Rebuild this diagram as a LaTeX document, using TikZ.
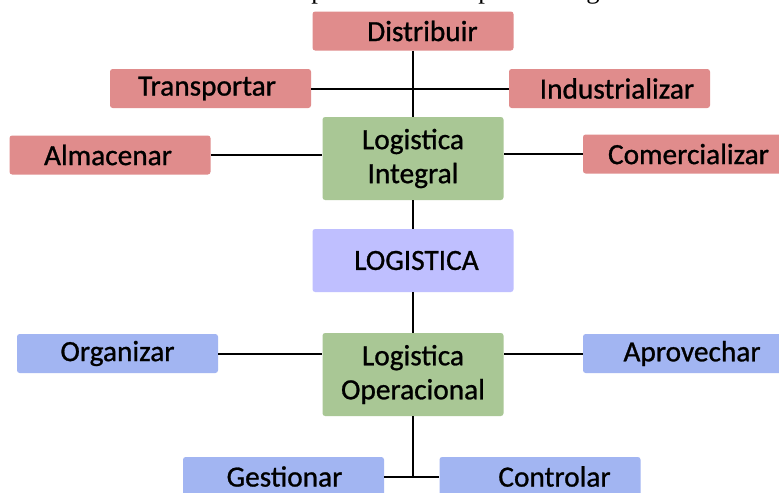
\documentclass[tikz,border=0pt]{standalone}
\usepackage{fontspec}
\setmainfont{Carlito}[FakeBold=0.9]
\newfontfamily\capfont{Liberation Serif}
\definecolor{redbox}{RGB}{224,140,140}
\definecolor{greenbox}{RGB}{169,199,149}
\definecolor{lilacbox}{RGB}{191,191,255}
\definecolor{bluebox}{RGB}{162,181,242}
\newcommand\Off[1]{\hspace*{#1}}
\tikzset{
  box/.style={rectangle, rounded corners=2pt, inner sep=0pt, text=black,
    font=\fontsize{22}{25.5}\selectfont, align=center},
  leaf/.style={box, minimum width=150.75pt, minimum height=29.25pt},
  redleaf/.style={leaf, fill=redbox},
  blueleaf/.style={leaf, fill=bluebox},
  hub/.style={box, fill=greenbox, minimum width=135.75pt, minimum height=62.25pt},
  core/.style={box, fill=lilacbox, minimum width=150.75pt, minimum height=47.25pt},
  link/.style={draw=black, line width=1.5pt},
  captail/.style={font=\capfont\fontsize{20}{24}\selectfont, anchor=base, inner sep=0pt},
}
\begin{document}
\begin{tikzpicture}[x=0.75pt, y=-0.75pt]
  \useasboundingbox (0,0) rectangle (779,493);
  \clip (0,0) rectangle (779,493);
  \fill[white] (0,0) rectangle (779,493);

  % tail of the caption line above the chart
  \node[captail] (capA) at (318,-1.5) {p};
  \node[captail] (capB) at (485,-1.5) {p};
  \node[captail] (capC) at (593,-1.5) {g};

  % upper branch
  \node[redleaf] (dist) at (413,31) {\Off{14.2pt}Distribuir};
  \node[redleaf] (trans) at (210.5,88.5) {\Off{-5.2pt}Transportar};
  \node[redleaf] (indus) at (609.5,88.5) {\Off{11.2pt}Industrializar};
  \node[hub] (integ) at (413,158.5) {Logistica\\Integral};
  \node[redleaf] (almac) at (110,155) {\Off{-3pt}Almacenar};
  \node[redleaf] (comer) at (683.5,154) {\Off{7.5pt}Comercializar};

  % centre
  \node[core] (logis) at (413,260.5) {\Off{5.2pt}LOGISTICA};

  % lower branch
  \node[hub] (operac) at (413,374.5) {Logistica\\Operacional};
  \node[blueleaf] (organ) at (117.5,353.5) {Organizar};
  \node[blueleaf] (aprov) at (683.5,353.5) {\Off{12.8pt}Aprovechar};
  \node[blueleaf] (gest) at (283.5,476.5) {\Off{1.5pt}Gestionar};
  \node[blueleaf] (contr) at (540,476.5) {\Off{21.8pt}Controlar};
  \coordinate (fork) at (operac.south |- gest.east);

  % connectors
  \draw[link] (dist.south) -- (integ.north);
  \draw[link] (trans.east) -- (indus.west);
  \draw[link] (almac.east) -- (almac.east -| integ.west);
  \draw[link] (comer.west) -- (comer.west -| integ.east);
  \draw[link] (integ.south) -- (logis.north);
  \draw[link] (logis.south) -- (operac.north);
  \draw[link] (organ.east) -- (organ.east -| operac.west);
  \draw[link] (aprov.west) -- (aprov.west -| operac.east);
  \draw[link] (operac.south) -- (fork);
  \draw[link] (gest.east) -- (contr.west);
\end{tikzpicture}
\end{document}
